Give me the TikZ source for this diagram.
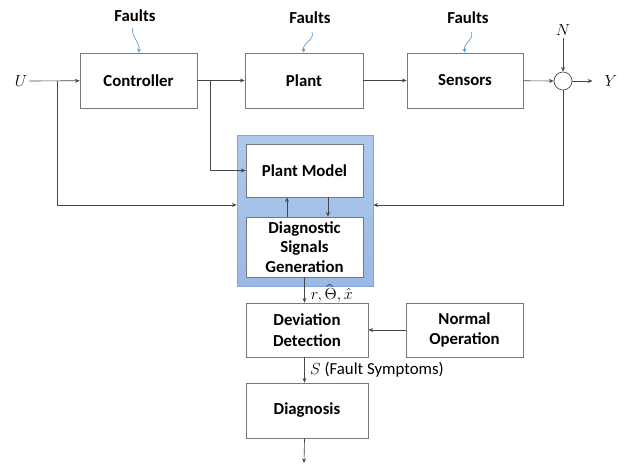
\documentclass[tikz,border=0pt]{standalone}
\usepackage{fontspec}
\setmainfont{Carlito}
\usetikzlibrary{arrows.meta}
\definecolor{lineg}{RGB}{70,70,70}
\definecolor{boxg}{RGB}{120,120,120}
\definecolor{faultblue}{RGB}{91,155,213}
\definecolor{bluetop}{RGB}{174,201,236}
\definecolor{bluebot}{RGB}{154,185,228}
\definecolor{blueedge}{RGB}{135,165,212}
\tikzset{
  sz/.style 2 args={minimum width=#1*0.75pt, minimum height=#2*0.75pt},
  blk/.style={draw=boxg, line width=0.6pt, fill=white, align=center, inner sep=0pt,
    font=\fontsize{12.6}{15.5}\selectfont\bfseries},
  lbl/.style={font=\fontsize{12.6}{15}\selectfont\bfseries, inner sep=1pt},
  mth/.style={font=\fontsize{11.5}{13}\selectfont, inner sep=1.5pt},
  arr/.style={draw=lineg, line width=0.5pt, -{Stealth[length=3.5pt,width=3pt]}},
  farr/.style={draw=faultblue, line width=0.5pt, -{Stealth[length=3pt,width=3pt]}},
}
\begin{document}
\begin{tikzpicture}[x=0.75pt,y=-0.75pt]
\useasboundingbox (0,0) rectangle (627,464);
% boxes
\node[blk, sz={117}{55}] (ctrl) at (138.5,80.5) {Controller};
\node[blk, sz={118}{55}] (plant) at (304,80.5) {Plant};
\node[blk, sz={116}{55}] (sens) at (465,80.5) {Sensors};
\node[draw=lineg, line width=0.5pt, circle, minimum size=18*0.75pt, inner sep=0pt] (sum) at (563,81) {};
\node[mth] (U) at (21,81) {$U$};
\node[mth] (N) at (563,30) {$N$};
\node[mth, inner xsep=9pt] (Y) at (611,81) {$Y$};
% blue box
\node[draw=blueedge, line width=0.6pt, top color=bluetop, bottom color=bluebot, sz={136}{151}] (blue) at (305,210.5) {};
\node[blk, sz={117}{53}] (pm) at (304.5,170.5) {Plant Model};
\node[blk, sz={117}{60}, font=\fontsize{12.6}{14.8}\selectfont\bfseries] (dsg) at (304.5,247) {Diagnostic\\Signals\\Generation};
\node[blk, sz={122}{54}] (dev) at (307,330) {Deviation\\Detection};
\node[blk, sz={117}{54}] (norm) at (464.5,330) {Normal\\Operation};
\node[blk, sz={122}{55}] (diag) at (307,410.5) {Diagnosis};
% faults labels
\node[lbl] (f1) at (135,16) {Faults};
\node[lbl] (f2) at (310,18) {Faults};
\node[lbl] (f3) at (468,18) {Faults};
% coordinates
\coordinate (b1) at (57,81);
\coordinate (b2) at (210,81);
\coordinate (fb) at (0,205);
\coordinate (out) at (304,463);
% main path
\draw[arr] (U) -- (ctrl);
\draw[arr] (ctrl) -- (plant);
\draw[arr] (plant) -- (sens);
\draw[arr] (sens) -- (sum);
\draw[arr] (sum) -- (Y);
\draw[arr] (N) -- (sum);
% feedback branches
\draw[arr] (b1) |- (blue.west |- fb);
\draw[arr] (b2) |- (pm.west);
\draw[arr] (sum) |- (blue.east |- fb);
% plant model <-> dsg
\draw[arr] (287,217) coordinate (u1) -- (u1 |- pm.south);
\draw[arr] (328,197) coordinate (d1) -- (d1 |- dsg.north);
% lower chain
\draw[arr] (dsg.south) -- (dsg.south |- dev.north);
\node[font=\fontsize{12}{14}\selectfont, inner sep=0.5pt, anchor=west] (rlab) at (310,294) {$r,\widehat{\Theta},\hat{x}$};
\draw[arr] (norm.west) -- (dev.east |- norm.west);
\draw[arr] (dev.south -| dsg.south) -- (dsg.south |- diag.north)
  node[midway, right=3pt, font=\fontsize{12.6}{14}\selectfont, inner sep=1pt] {$S$ (Fault Symptoms)};
\draw[arr] (diag.south -| dsg.south) -- (out);
% faults arrows
\draw[farr] ([xshift=-1.5pt,yshift=-3pt]f1.south) .. controls +(-3,8) and +(2,-10) .. (ctrl.north);
\draw[farr] ([xshift=1.5pt,yshift=-5pt]f2.south) .. controls +(3,8) and +(-2,-10) .. (plant.north);
\draw[farr] ([xshift=2.5pt,yshift=-5pt]f3.south) .. controls +(3,8) and +(-2,-10) .. (sens.north);
\end{tikzpicture}
\end{document}
